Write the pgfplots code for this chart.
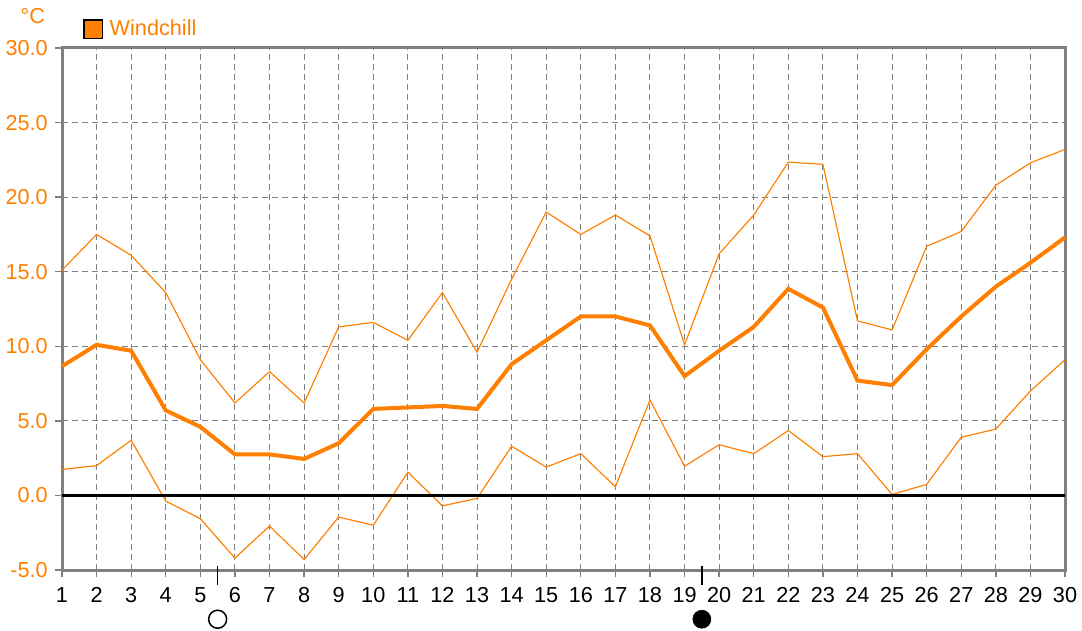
\documentclass[border=0pt]{standalone}
\usepackage{fontspec}
\setmainfont{Liberation Sans}
\usepackage{pgfplots}
\pgfplotsset{compat=1.18}
\definecolor{wcorange}{HTML}{FF8000}
\definecolor{gridgray}{HTML}{808080}
\newcommand{\chartfont}{\fontsize{13}{15}\selectfont}
\begin{document}
\begin{tikzpicture}
\useasboundingbox (-37.2pt,-36pt) rectangle (612pt,342pt);
\begin{axis}[
  at={(0,0)}, anchor=south west,
  scale only axis, width=601.8pt, height=313.2pt,
  xmin=1, xmax=30, ymin=-5, ymax=30,
  xtick={1,...,30}, ytick={-5,0,...,30},
  clip=false,
  axis line style={gridgray, line width=1.8pt},
  grid=major,
  major grid style={gridgray, line width=0.6pt, dash pattern=on 3.6pt off 2.4pt},
  tick align=outside, major tick length=4pt,
  tick style={gridgray, line width=0.8pt},
  xtick pos=bottom, ytick pos=left,
  /pgf/number format/assume math mode=true,
  yticklabel style={/pgf/number format/.cd, fixed, fixed zerofill, precision=1, /tikz/.cd, text=wcorange, font=\chartfont, xshift=-1pt},
  xticklabel style={text=black, font=\chartfont, yshift=-3pt},
  ylabel={°C},
  every axis y label/.style={at={(rel axis cs:-0.029,1.062)}, anchor=center, text=wcorange, font=\chartfont},
  legend style={at={(0.021,1.036)}, anchor=west, draw=none, fill=none, inner sep=0pt, font=\chartfont, text=wcorange},
  legend image code/.code={\draw[black, line width=0.8pt, fill=wcorange] (0pt,-5.5pt) rectangle (11pt,5.5pt);},
]
\addplot[wcorange, line width=2.4pt] coordinates {
(1,8.66) (2,10.1) (3,9.7) (4,5.7) (5,4.6) (6,2.75) (7,2.75) (8,2.45) (9,3.5) (10,5.8)
(11,5.9) (12,6.0) (13,5.8) (14,8.8) (15,10.4) (16,12.0) (17,12.0) (18,11.4) (19,8.0) (20,9.7)
(21,11.3) (22,13.85) (23,12.6) (24,7.7) (25,7.4) (26,9.8) (27,12.0) (28,14.0) (29,15.6) (30,17.3)};
\addlegendentry{\hspace{2pt}Windchill}
\addplot[wcorange, line width=0.7pt, forget plot] coordinates {
(1,15.1) (2,17.5) (3,16.1) (4,13.6) (5,9.1) (6,6.2) (7,8.3) (8,6.2) (9,11.3) (10,11.6)
(11,10.4) (12,13.6) (13,9.6) (14,14.5) (15,19.0) (16,17.5) (17,18.8) (18,17.4) (19,10.1) (20,16.2)
(21,18.8) (22,22.35) (23,22.2) (24,11.7) (25,11.1) (26,16.7) (27,17.7) (28,20.8) (29,22.3) (30,23.2)};
\addplot[wcorange, line width=0.7pt, forget plot] coordinates {
(1,1.74) (2,2.0) (3,3.7) (4,-0.38) (5,-1.56) (6,-4.2) (7,-2.05) (8,-4.3) (9,-1.45) (10,-2.0)
(11,1.56) (12,-0.7) (13,-0.2) (14,3.3) (15,1.9) (16,2.8) (17,0.58) (18,6.4) (19,1.96) (20,3.4)
(21,2.8) (22,4.35) (23,2.6) (24,2.8) (25,0.07) (26,0.74) (27,3.9) (28,4.45) (29,7.0) (30,9.1)};
\addplot[black, line width=1.8pt, forget plot] coordinates {(1,0) (30,0)};
\addplot[black, line width=0.8pt, forget plot] coordinates {(5.5,-4.7) (5.5,-6.0)};
\addplot[black, line width=0.8pt, forget plot] coordinates {(19.5,-4.7) (19.5,-6.0)};
\addplot[only marks, mark=o, mark size=5.4pt, black, line width=0.9pt, mark options={fill=white}, forget plot] coordinates {(5.5,-8.3)};
\addplot[only marks, mark=*, mark size=5.4pt, black, forget plot] coordinates {(19.5,-8.3)};
\end{axis}
\end{tikzpicture}
\end{document}
